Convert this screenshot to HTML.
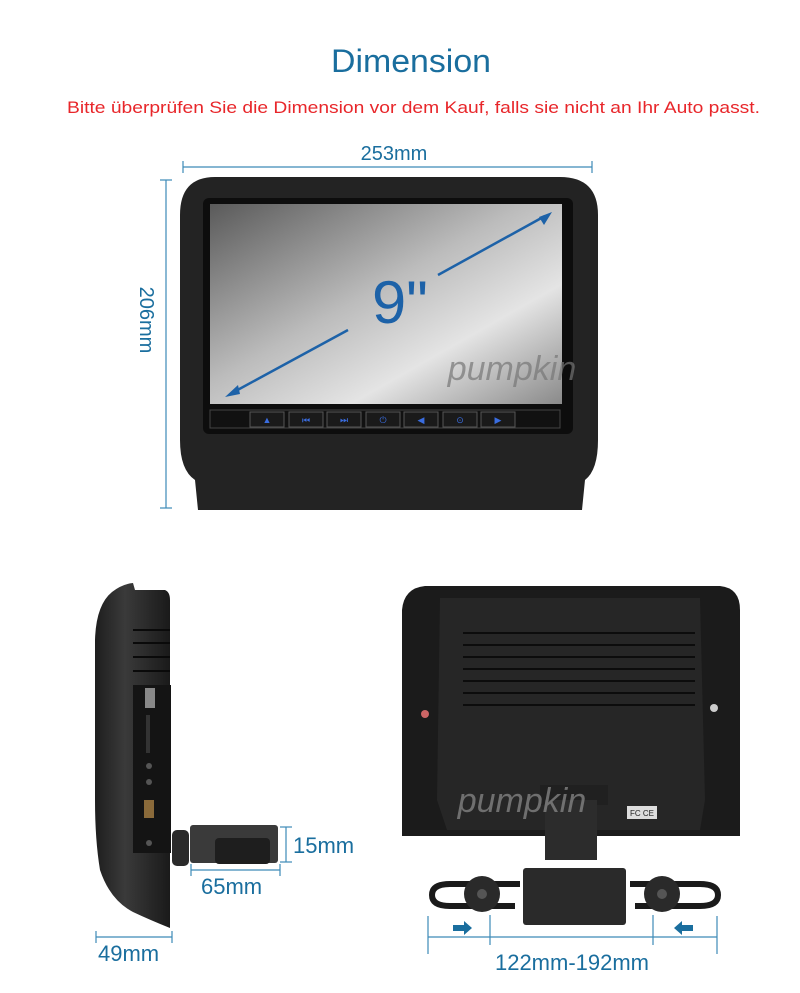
<!DOCTYPE html>
<html><head><meta charset="utf-8"><style>
body{margin:0;background:#fff}
svg{display:block}
text{font-family:"Liberation Sans",sans-serif}
</style></head><body>
<svg width="800" height="993" viewBox="0 0 800 993" xmlns="http://www.w3.org/2000/svg">
<defs>
<linearGradient id="scr" x1="0" y1="0" x2="1" y2="1">
<stop offset="0" stop-color="#5a5a5a"/><stop offset="0.45" stop-color="#bcbcbc"/><stop offset="0.7" stop-color="#e4e4e4"/><stop offset="1" stop-color="#8a8a8a"/>
</linearGradient>
<linearGradient id="side" x1="0" x2="1"><stop offset="0" stop-color="#1e1e1e"/><stop offset="0.4" stop-color="#3a3a3a"/><stop offset="1" stop-color="#1a1a1a"/></linearGradient>
</defs>
<text x="411" y="72" text-anchor="middle" font-size="32" fill="#1a6e9e" textLength="160" lengthAdjust="spacingAndGlyphs">Dimension</text>
<text x="67" y="113" font-size="17" fill="#e8262a" textLength="693" lengthAdjust="spacingAndGlyphs">Bitte überprüfen Sie die Dimension vor dem Kauf, falls sie nicht an Ihr Auto passt.</text>
<text x="394" y="160" text-anchor="middle" font-size="20" fill="#1a6e9e">253mm</text>
<g stroke="#3d8ab8" stroke-width="1.2">
<line x1="183" y1="167" x2="592" y2="167"/><line x1="183" y1="161" x2="183" y2="173"/><line x1="592" y1="161" x2="592" y2="173"/>
<line x1="166" y1="180" x2="166" y2="508"/><line x1="160" y1="180" x2="172" y2="180"/><line x1="160" y1="508" x2="172" y2="508"/>
</g>
<text transform="translate(140,320) rotate(90)" text-anchor="middle" font-size="20" fill="#1a6e9e">206mm</text>
<path d="M215 177 H560 Q598 177 598 215 V440 Q598 470 585 480 L582 510 H198 L195 480 Q180 470 180 440 V215 Q180 177 215 177Z" fill="#232323"/>
<rect x="203" y="198" width="370" height="236" rx="6" fill="#0d0d0d"/>
<rect x="210" y="204" width="352" height="200" fill="url(#scr)"/>
<rect x="210" y="410" width="350" height="18" fill="#111" stroke="#444"/>
<g fill="#1a1a1a" stroke="#555">
<rect x="250" y="412" width="34" height="15"/><rect x="289" y="412" width="34" height="15"/><rect x="327" y="412" width="34" height="15"/><rect x="366" y="412" width="34" height="15"/><rect x="404" y="412" width="34" height="15"/><rect x="443" y="412" width="34" height="15"/><rect x="481" y="412" width="34" height="15"/>
</g>
<g fill="#3a6de0" font-size="9" text-anchor="middle">
<text x="267" y="423">▲</text><text x="306" y="423">⏮</text><text x="344" y="423">⏭</text><text x="383" y="423">⏻</text><text x="421" y="423">◀</text><text x="460" y="423">⊙</text><text x="498" y="423">▶</text>
</g>
<g stroke="#1d62a8" stroke-width="2.5">
<line x1="232" y1="393" x2="348" y2="330"/><line x1="438" y1="275" x2="545" y2="216"/>
</g>
<path d="M225 397 L238 385 L240 394Z M552 212 L539 217 L544 225Z" fill="#1d62a8"/>
<text x="400" y="323" text-anchor="middle" font-size="60" fill="#1d62a8" textLength="56" lengthAdjust="spacingAndGlyphs">9"</text>
<text x="512" y="380" text-anchor="middle" font-size="34" font-style="italic" fill="#777" opacity="0.7">pumpkin</text>
<path d="M112 592 Q122 584 133 583 L135 590 H165 Q170 592 170 600 V928 Q150 920 133 912 Q110 900 100 870 Q95 840 95 800 V640 Q96 605 112 592Z" fill="url(#side)"/>
<rect x="133" y="685" width="38" height="168" fill="#141414"/>
<g stroke="#0a0a0a" stroke-width="2"><line x1="133" y1="630" x2="170" y2="630"/><line x1="133" y1="643" x2="170" y2="643"/><line x1="133" y1="657" x2="170" y2="657"/><line x1="133" y1="671" x2="170" y2="671"/></g>
<rect x="145" y="688" width="10" height="20" fill="#888"/>
<rect x="146" y="715" width="4" height="38" fill="#333"/>
<circle cx="149" cy="766" r="3" fill="#555"/><circle cx="149" cy="782" r="3" fill="#555"/>
<rect x="144" y="800" width="10" height="18" fill="#8a6a3a"/>
<circle cx="149" cy="843" r="3" fill="#555"/>
<rect x="172" y="830" width="17" height="36" rx="5" fill="#2a2a2a"/>
<rect x="190" y="825" width="88" height="38" rx="3" fill="#3a3a3a"/>
<rect x="215" y="838" width="55" height="26" rx="4" fill="#1e1e1e"/>
<g stroke="#3d8ab8" stroke-width="1.2">
<line x1="286" y1="827" x2="286" y2="862"/><line x1="280" y1="827" x2="292" y2="827"/><line x1="280" y1="862" x2="292" y2="862"/>
<line x1="191" y1="870" x2="280" y2="870"/><line x1="191" y1="864" x2="191" y2="876"/><line x1="280" y1="864" x2="280" y2="876"/>
<line x1="96" y1="937" x2="172" y2="937"/><line x1="96" y1="931" x2="96" y2="943"/><line x1="172" y1="931" x2="172" y2="943"/>
</g>
<text x="293" y="853" font-size="22" fill="#1a6e9e">15mm</text>
<text x="201" y="894" font-size="22" fill="#1a6e9e">65mm</text>
<text x="98" y="961" font-size="22" fill="#1a6e9e">49mm</text>
<path d="M425 586 H720 Q740 588 740 610 V836 H402 V610 Q404 588 425 586Z" fill="#1b1b1b"/>
<path d="M440 598 H700 L705 800 L700 830 H447 L437 800Z" fill="#262626"/>
<g fill="#0c0c0c">
<rect x="463" y="632" width="232" height="2"/><rect x="463" y="644" width="232" height="2"/><rect x="463" y="656" width="232" height="2"/><rect x="463" y="668" width="232" height="2"/><rect x="463" y="680" width="232" height="2"/><rect x="463" y="692" width="232" height="2"/><rect x="463" y="704" width="232" height="2"/>
</g>
<circle cx="425" cy="714" r="4" fill="#c66"/><circle cx="714" cy="708" r="4" fill="#ccc"/>
<rect x="627" y="806" width="30" height="13" fill="#ddd"/>
<text x="642" y="816" text-anchor="middle" font-size="8" fill="#222">FC CE</text>
<rect x="540" y="785" width="68" height="20" fill="#202020"/>
<rect x="545" y="800" width="52" height="60" fill="#2c2c2c"/>
<text x="522" y="812" text-anchor="middle" font-size="34" font-style="italic" fill="#888" opacity="0.75">pumpkin</text>
<rect x="523" y="868" width="103" height="57" rx="3" fill="#2a2a2a"/>
<g fill="none" stroke="#1a1a1a" stroke-width="6">
<path d="M520 884 H450 Q432 884 432 895 Q432 906 450 906 H515"/>
<path d="M630 884 H700 Q718 884 718 895 Q718 906 700 906 H635"/>
</g>
<circle cx="482" cy="894" r="18" fill="#2a2a2a"/><circle cx="482" cy="894" r="5" fill="#555"/>
<circle cx="662" cy="894" r="18" fill="#2a2a2a"/><circle cx="662" cy="894" r="5" fill="#555"/>
<g stroke="#3d8ab8" stroke-width="1.2">
<line x1="428" y1="937" x2="717" y2="937"/><line x1="428" y1="916" x2="428" y2="954"/><line x1="717" y1="916" x2="717" y2="954"/><line x1="490" y1="915" x2="490" y2="945"/><line x1="653" y1="915" x2="653" y2="945"/>
</g>
<path d="M453 925 H464 V921 L472 928 L464 935 V931 H453Z" fill="#1a6e9e"/>
<path d="M693 925 H682 V921 L674 928 L682 935 V931 H693Z" fill="#1a6e9e"/>
<text x="572" y="970" text-anchor="middle" font-size="22" fill="#1a6e9e">122mm-192mm</text>
</svg>
</body></html>
